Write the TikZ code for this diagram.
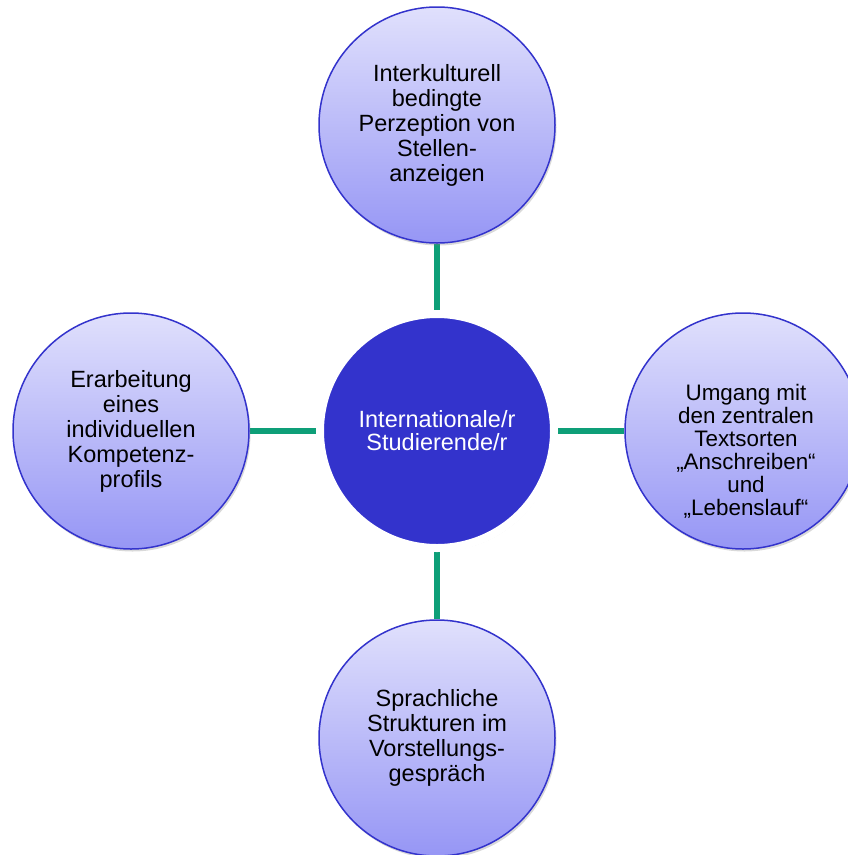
\documentclass[tikz,border=0pt]{standalone}
\usepackage{fontspec}
\setmainfont{Liberation Sans}
\usetikzlibrary{shadows,backgrounds}
\definecolor{rimblue}{RGB}{51,51,204}
\definecolor{topfill}{RGB}{224,224,252}
\definecolor{botfill}{RGB}{150,150,245}
\definecolor{linkgreen}{RGB}{14,159,120}
\tikzset{
  outer/.style={circle, draw=rimblue, line width=1.5pt, minimum size=236pt, inner sep=0pt,
    top color=topfill, bottom color=botfill, align=center, text=black,
    font=\fontsize{23.5}{25}\selectfont,
    drop shadow={opacity=0.3, shadow xshift=1.5pt, shadow yshift=-2.5pt}},
  hub/.style={circle, draw=white, line width=8pt, fill=rimblue, minimum size=234pt, inner sep=0pt,
    align=center, text=white, font=\fontsize{23.5}{23}\selectfont,
    drop shadow={opacity=0.35, shadow xshift=2pt, shadow yshift=-3pt}},
  tagtext/.style={align=center, text=black, inner sep=0pt},
  link/.style={draw=linkgreen, line width=5.5pt}
}
\begin{document}
\begin{tikzpicture}[x=1pt,y=-1pt]
\useasboundingbox (0,0) rectangle (848,855);
\node[hub] (c) at (437,431) {Internationale/r\\Studierende/r};
\node[outer] (t) at (437,125) {Interkulturell\\bedingte\\Perzeption von\\Stellen-\\anzeigen};
\node[outer] (b) at (437,738) {Sprachliche\\Strukturen im\\Vorstellungs-\\gespräch};
\node[outer] (l) at (131,431) {Erarbeitung\\eines\\individuellen\\Kompetenz-\\profils};
\node[outer] (r) at (743,431) {};
\node[tagtext, font=\fontsize{22.4}{23}\selectfont] (rt) at (746,451) {Umgang mit\\den zentralen\\Textsorten\\„Anschreiben“\\und\\„Lebenslauf“};
\begin{scope}[on background layer]
\draw[link] (c) -- (t);
\draw[link] (c) -- (b);
\draw[link] (c) -- (l);
\draw[link] (c) -- (r);
\end{scope}
\end{tikzpicture}
\end{document}
